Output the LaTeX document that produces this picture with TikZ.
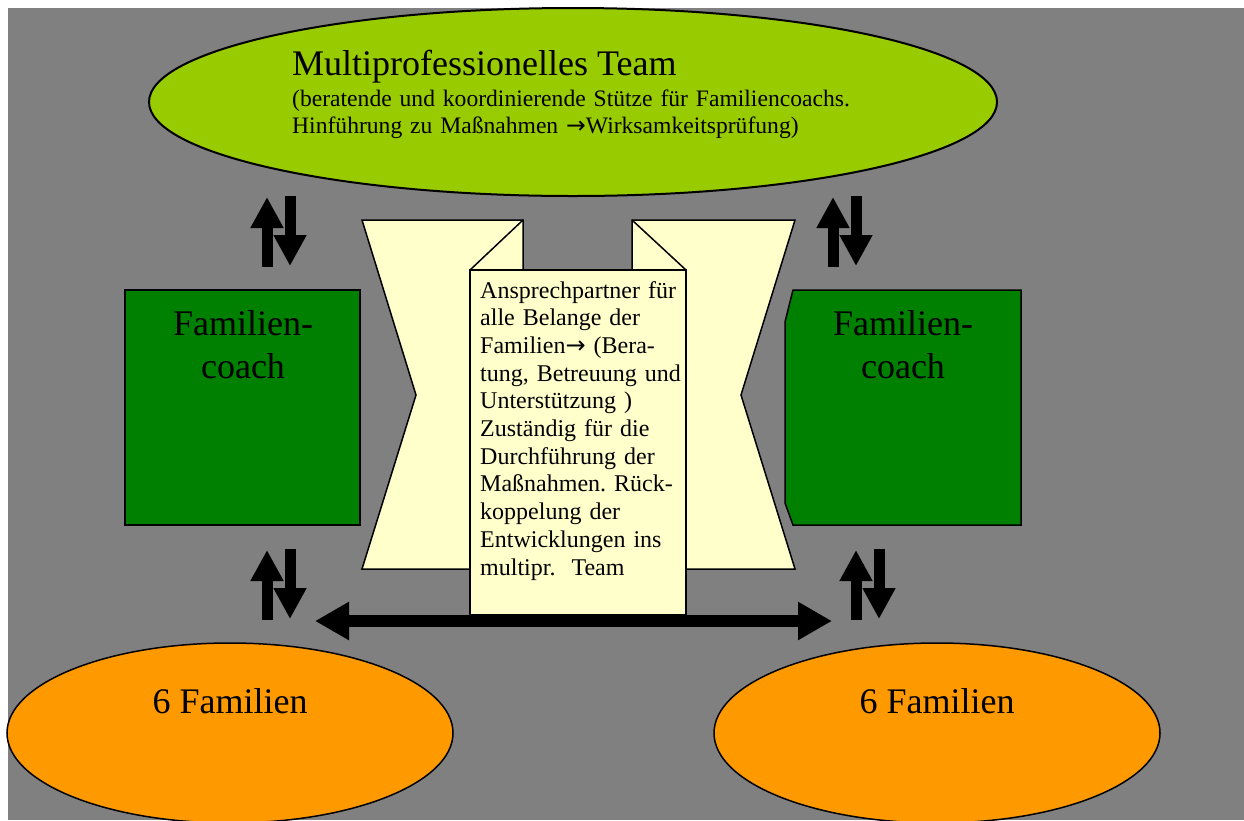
\documentclass[tikz,border=0pt]{standalone}
\usepackage{fontspec}
\setmainfont{Liberation Serif}
\newfontfamily\pfeilschrift{DejaVu Sans}
\newcommand\pfeil{{\pfeilschrift →}}
\frenchspacing
\usetikzlibrary{arrows.meta}
\definecolor{hintergrund}{HTML}{808080}
\definecolor{teamgruen}{HTML}{99CC00}
\definecolor{coachgruen}{HTML}{008000}
\definecolor{familienorange}{HTML}{FF9900}
\definecolor{rollengelb}{HTML}{FFFFCC}
\tikzset{
  hochrunter/.style={line width=11pt,-{Triangle[length=31pt,width=31pt]}},
  querpfeil/.style={line width=12pt,{Triangle[length=34pt,width=36pt]}-{Triangle[length=34pt,width=36pt]}},
  umriss/.style={draw=black,line width=1.5pt,line join=miter},
  grosstext/.style={inner sep=0pt,font=\fontsize{36}{43}\selectfont},
  kleintext/.style={inner sep=0pt,font=\fontsize{24}{27}\selectfont}
}
\begin{document}
\begin{tikzpicture}[x=1pt,y=-1pt]
\useasboundingbox (0,0) rectangle (1244,820);
\fill[hintergrund] (8,8) rectangle (1244,820);

\draw[umriss,line width=2pt,fill=teamgruen] (573,102) ellipse [x radius=424pt,y radius=94pt];
\node[grosstext,anchor=base west] (team) at (292,75) {Multiprofessionelles Team};
\node[kleintext,font=\fontsize{23.6}{27}\selectfont,anchor=base west,text width=600pt,align=left] (teamtext) at (292,106)
  {(beratende und koordinierende Stütze für Familiencoachs.\\Hinführung zu Maßnahmen \pfeil Wirksamkeitsprüfung)};

\draw[umriss,fill=coachgruen] (125,290) rectangle (360,525);
\node[grosstext,anchor=base,text width=230pt,align=center] (coachL) at (243,335) {Familien-\\coach};
\draw[umriss,fill=coachgruen] (793,290)--(1021,290)--(1021,525)--(793,525)--(785,503)--(785,322)--cycle;
\node[grosstext,anchor=base,text width=230pt,align=center] (coachR) at (903,335) {Familien-\\coach};

\draw[umriss,fill=rollengelb] (362,220)--(523,220)--(523,270)--(470,270)--(470,569)--(362,569)--(416,395)--cycle;
\draw[umriss] (470,270)--(523,220);
\draw[umriss,fill=rollengelb] (795,220)--(632,220)--(632,270)--(686,270)--(686,569)--(795,569)--(741,395)--cycle;
\draw[umriss] (632,220)--(686,270);
\draw[umriss,fill=rollengelb] (470,270) rectangle (686,615);
\node[kleintext,font=\fontsize{24}{27.7}\selectfont,anchor=base west,text width=205pt,align=left] (rolle) at (480,298)
  {Ansprechpartner für\\alle Belange der\\Familien\pfeil\ (Bera-\\tung, Betreuung und\\Unterstützung )\\Zuständig für die\\Durchführung der\\Maßnahmen. Rück-\\koppelung der\\Entwicklungen ins\\multipr.\ \ Team};

\draw[umriss,fill=familienorange] (230,733) ellipse [x radius=223pt,y radius=90pt];
\node[grosstext,anchor=base] (famL) at (230,713) {6 Familien};
\draw[umriss,fill=familienorange] (937,733) ellipse [x radius=223pt,y radius=90pt];
\node[grosstext,anchor=base] (famR) at (937,713) {6 Familien};

\coordinate (LO1) at (267,267); \coordinate (LO2) at (267,197);
\coordinate (LO3) at (290,196); \coordinate (LO4) at (290,266);
\coordinate (RO1) at (833,267); \coordinate (RO2) at (833,197);
\coordinate (RO3) at (856,196); \coordinate (RO4) at (856,266);
\coordinate (LU1) at (267,620); \coordinate (LU2) at (267,550);
\coordinate (LU3) at (290,549); \coordinate (LU4) at (290,619);
\coordinate (RU1) at (856,620); \coordinate (RU2) at (856,550);
\coordinate (RU3) at (879,549); \coordinate (RU4) at (879,619);
\coordinate (QL) at (315,621); \coordinate (QR) at (832,621);

\draw[hochrunter] (LO1)--(LO2);
\draw[hochrunter] (LO3)--(LO4);
\draw[hochrunter] (RO1)--(RO2);
\draw[hochrunter] (RO3)--(RO4);
\draw[hochrunter] (LU1)--(LU2);
\draw[hochrunter] (LU3)--(LU4);
\draw[hochrunter] (RU1)--(RU2);
\draw[hochrunter] (RU3)--(RU4);
\draw[querpfeil] (QL)--(QR);
\end{tikzpicture}
\end{document}
